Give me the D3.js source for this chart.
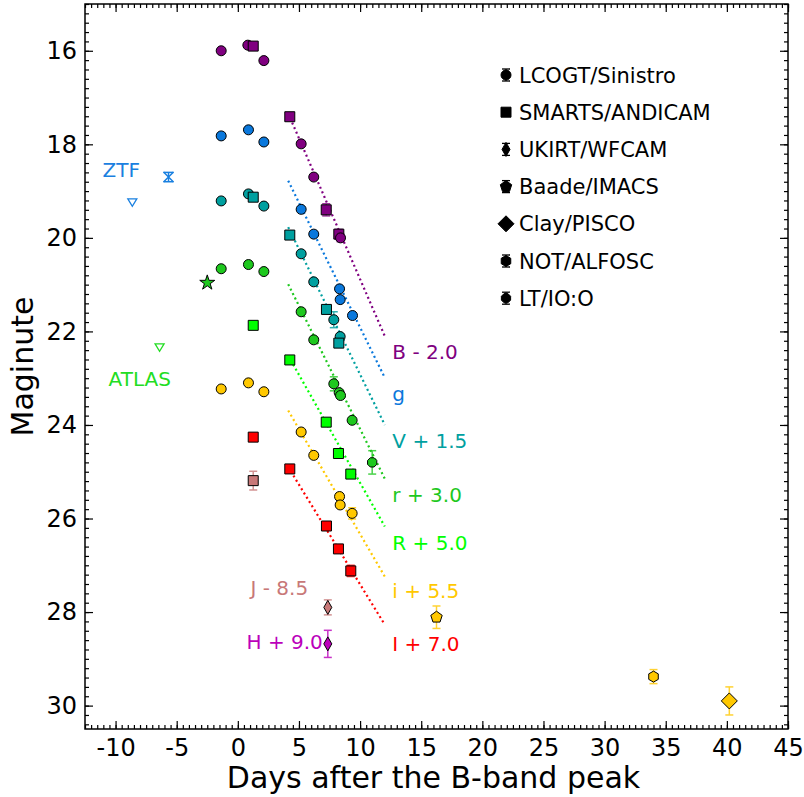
<!DOCTYPE html>
<html>
<head>
<meta charset="utf-8">
<script src="https://cdn.jsdelivr.net/npm/d3@7"></script>
<style>
  body { margin: 0; background: white; }
  text { font-family: "DejaVu Sans", sans-serif; }
</style>
</head>
<body>
<div id="chart"></div>
<script>
// photometry per band: [day, mag, err, instrument]
var B_pts = [[-1.36,16.00,0,"LCOGT"],[0.82,15.88,0,"LCOGT"],[1.26,15.90,0,"SMARTS"],[2.13,16.21,0.05,"LCOGT"],
             [4.25,17.41,0,"SMARTS"],[5.18,17.99,0,"LCOGT"],[6.21,18.70,0.03,"LCOGT"],[7.23,19.40,0.13,"SMARTS"],
             [8.26,19.92,0.1,"SMARTS"],[8.40,20.00,0.08,"LCOGT"]];
var g_pts = [[-1.36,17.82,0,"LCOGT"],[0.87,17.69,0,"LCOGT"],[2.13,17.95,0,"LCOGT"],[5.18,19.39,0,"LCOGT"],
             [6.21,19.92,0,"LCOGT"],[8.32,21.09,0,"LCOGT"],[8.37,21.32,0,"LCOGT"],[9.38,21.66,0,"LCOGT"]];
var V_pts = [[-1.36,19.21,0,"LCOGT"],[0.87,19.06,0,"LCOGT"],[1.26,19.13,0,"SMARTS"],[2.13,19.32,0,"LCOGT"],
             [4.25,19.94,0,"SMARTS"],[5.18,20.34,0,"LCOGT"],[6.21,20.94,0,"LCOGT"],[7.25,21.53,0.05,"SMARTS"],
             [7.85,21.75,0.17,"LCOGT"],[8.37,22.11,0,"LCOGT"],[8.26,22.25,0.04,"SMARTS"]];
var r_pts = [[-1.36,20.66,0,"LCOGT"],[0.87,20.57,0,"LCOGT"],[2.13,20.72,0,"LCOGT"],[5.18,21.58,0,"LCOGT"],
             [6.21,22.18,0,"LCOGT"],[7.85,23.12,0.15,"LCOGT"],[8.29,23.31,0.05,"LCOGT"],[8.40,23.37,0.05,"LCOGT"],
             [9.35,23.90,0.05,"LCOGT"],[10.99,24.80,0.25,"LT"]];
var R_pts = [[1.26,21.87,0,"SMARTS"],[4.25,22.61,0,"SMARTS"],[7.23,23.94,0.05,"SMARTS"],[8.23,24.61,0.05,"SMARTS"],
             [9.24,25.05,0.07,"SMARTS"]];
var i_pts = [[-1.36,23.23,0,"LCOGT"],[0.87,23.10,0,"LCOGT"],[2.13,23.29,0,"LCOGT"],[5.18,24.15,0,"LCOGT"],
             [6.21,24.65,0,"LCOGT"],[8.32,25.53,0.06,"LCOGT"],[8.37,25.71,0.05,"LCOGT"],[9.35,25.89,0.12,"LCOGT"],
             [16.25,28.11,0.24,"Baade"],[34.0,29.38,0.15,"NOT"],[40.2,29.90,0.3,"Clay"]];
var I_pts = [[1.26,24.26,0,"SMARTS"],[4.25,24.94,0,"SMARTS"],[7.25,26.16,0.05,"SMARTS"],[8.23,26.65,0.04,"SMARTS"],
             [9.24,27.12,0.12,"SMARTS"]];
var J_pts = [[1.26,25.19,0.2,"SMARTS"],[7.36,27.90,0.16,"UKIRT"]];
var H_pts = [[7.36,28.68,0.29,"UKIRT"]];

// early data
var ztfDet = [[-5.67,18.70,0.1]];
var ztfLim = [[-8.63,19.23]];
var atlasLim = [[-6.4,22.33]];
var discovery = [[-2.5,20.96]];

// template fits (start/end)
var tmplBands = ["B","g","V","r","R","i","I"];
var tmplDays = [[4.12,12.02],[4.12,12.02],[4.12,12.02],[4.12,12.02],[4.12,12.02],[4.12,12.02],[4.12,12.02]];
var tmplMags = [[17.34,22.1],[18.78,22.99],[19.77,24.0],[20.99,25.15],[22.52,26.17],[23.69,27.24],[24.9,28.27]];

// band labels
var labelText = ["B - 2.0","g","V + 1.5","r + 3.0","R + 5.0","i + 5.5","I + 7.0","J - 8.5","H + 9.0","ZTF","ATLAS"];
var labelDay  = [12.64,12.64,12.64,12.64,12.64,12.64,12.64,1.04,0.71,-11.06,-10.57];
var labelMag  = [22.44,23.34,24.34,25.50,26.52,27.55,28.68,27.48,28.63,18.55,23.01];

var instruments = ["LCOGT/Sinistro","SMARTS/ANDICAM","UKIRT/WFCAM","Baade/IMACS","Clay/PISCO","NOT/ALFOSC","LT/IO:O"];
var xTicks = d3.range(-10, 46, 5);
var yTicks = d3.range(16, 31, 2);

var colors = {B:"#800080", g:"#0a78dc", V:"#00a0a0", r:"#1ec81e", R:"#00ff00", i:"#ffc800", I:"#ff0000",
              J:"#c87878", H:"#bb00bb", ZTF:"#1a80e0", ATLAS:"#22dd22"};
var labelColors = [colors.B, colors.g, colors.V, colors.r, colors.R, colors.i, colors.I, colors.J, colors.H, colors.ZTF, colors.ATLAS];
var instKey = ["LCOGT","SMARTS","UKIRT","Baade","Clay","NOT","LT"];

var width = 804, height = 797;
var margin = {left: 85, right: 16, top: 4, bottom: 68};

var svg = d3.select("#chart").append("svg")
    .attr("width", width)
    .attr("height", height)
    .style("background-color", "white");

var x = d3.scaleLinear().domain([-12.5, 45]).range([margin.left, width - margin.right]);
var y = d3.scaleLinear().domain([15, 30.5]).range([margin.top, height - margin.bottom]);

// shapes
function polygon(n, r, rot) {
  var p = [];
  for (var k = 0; k < n; k++) {
    var a = rot + 2 * Math.PI * k / n;
    p.push([r * Math.sin(a), -r * Math.cos(a)]);
  }
  return "M" + p.join("L") + "Z";
}
function shapePath(inst) {
  if (inst == "LCOGT") return d3.symbol(d3.symbolCircle, Math.PI * 25)();
  if (inst == "SMARTS") return "M-5,-5L5,-5L5,5L-5,5Z";
  if (inst == "UKIRT") return "M0,-7L4,0L0,7L-4,0Z";
  if (inst == "Baade") return polygon(5, 6, 0);
  if (inst == "Clay") return "M0,-8L8,0L0,8L-8,0Z";
  if (inst == "NOT") return polygon(6, 5.5, 0);
  if (inst == "LT") return polygon(8, 5, Math.PI / 8);
}

// ticks, all four sides, pointing in
var xMinor = d3.range(-12.5, 45.01, 0.5);
var yMinor = d3.range(15, 30.51, 0.2);

var minors = [
  svg.append("g").attr("transform", "translate(0," + (height - margin.bottom) + ")")
    .call(d3.axisBottom(x).tickValues(xMinor).tickSize(-4)),
  svg.append("g").attr("transform", "translate(0," + margin.top + ")")
    .call(d3.axisTop(x).tickValues(xMinor).tickSize(-4)),
  svg.append("g").attr("transform", "translate(" + margin.left + ",0)")
    .call(d3.axisLeft(y).tickValues(yMinor).tickSize(-4)),
  svg.append("g").attr("transform", "translate(" + (width - margin.right) + ",0)")
    .call(d3.axisRight(y).tickValues(yMinor).tickSize(-4)),
  svg.append("g").attr("transform", "translate(0," + margin.top + ")")
    .call(d3.axisTop(x).tickValues(xTicks).tickSize(-8)),
  svg.append("g").attr("transform", "translate(" + (width - margin.right) + ",0)")
    .call(d3.axisRight(y).tickValues(yTicks).tickSize(-8))
];
minors.forEach(function(g) { g.selectAll("text").remove(); });

var xAxis = svg.append("g").attr("transform", "translate(0," + (height - margin.bottom) + ")")
  .call(d3.axisBottom(x).tickValues(xTicks).tickSize(-8).tickPadding(10).tickFormat(function(d){ return String(d); }));
var yAxis = svg.append("g").attr("transform", "translate(" + margin.left + ",0)")
  .call(d3.axisLeft(y).tickValues(yTicks).tickSize(-8).tickPadding(8));

svg.selectAll(".domain").remove();
svg.selectAll(".tick line").attr("stroke", "black").attr("stroke-width", 1.2);
xAxis.selectAll("text").style("font-size", "24px").attr("fill", "black");
yAxis.selectAll("text").style("font-size", "24px").attr("fill", "black");

svg.append("rect")
  .attr("x", margin.left).attr("y", margin.top)
  .attr("width", width - margin.left - margin.right)
  .attr("height", height - margin.top - margin.bottom)
  .attr("fill", "none").attr("stroke", "black").attr("stroke-width", 1.5);

// axis titles
svg.append("text")
  .attr("x", (margin.left + width - margin.right) / 2 - 3)
  .attr("y", 788)
  .attr("text-anchor", "middle")
  .style("font-size", "30px")
  .text("Days after the B-band peak");

svg.append("text")
  .attr("transform", "translate(33," + (margin.top + height - margin.bottom) / 2 + ") rotate(-90)")
  .attr("text-anchor", "middle")
  .style("font-size", "30px")
  .text("Maginute");

// template lines
var line = d3.line().x(function(d){ return x(d[0]); }).y(function(d){ return y(d[1]); });
tmplBands.forEach(function(b, k) {
  svg.append("path")
    .attr("d", line([[tmplDays[k][0], tmplMags[k][0]], [tmplDays[k][1], tmplMags[k][1]]]))
    .attr("fill", "none")
    .attr("stroke", colors[b])
    .attr("stroke-width", 2.2)
    .attr("stroke-dasharray", "2,3");
});

// error bars then markers
function drawBand(pts, col) {
  pts.forEach(function(p) {
    if (p[2] > 0) {
      var g = svg.append("g").attr("stroke", col).attr("stroke-width", 1.5).attr("opacity", 0.8);
      g.append("line").attr("x1", x(p[0])).attr("x2", x(p[0])).attr("y1", y(p[1] - p[2])).attr("y2", y(p[1] + p[2]));
      g.append("line").attr("x1", x(p[0]) - 4).attr("x2", x(p[0]) + 4).attr("y1", y(p[1] - p[2])).attr("y2", y(p[1] - p[2]));
      g.append("line").attr("x1", x(p[0]) - 4).attr("x2", x(p[0]) + 4).attr("y1", y(p[1] + p[2])).attr("y2", y(p[1] + p[2]));
    }
  });
  pts.forEach(function(p) {
    svg.append("path")
      .attr("transform", "translate(" + x(p[0]) + "," + y(p[1]) + ")")
      .attr("d", shapePath(p[3]))
      .attr("fill", col)
      .attr("stroke", "black")
      .attr("stroke-width", 1);
  });
}
drawBand(B_pts, colors.B);
drawBand(g_pts, colors.g);
drawBand(V_pts, colors.V);
drawBand(r_pts, colors.r);
drawBand(R_pts, colors.R);
drawBand(i_pts, colors.i);
drawBand(I_pts, colors.I);
drawBand(J_pts, colors.J);
drawBand(H_pts, colors.H);

// ZTF detection: x marker with error bar
ztfDet.forEach(function(p) {
  var g = svg.append("g").attr("stroke", colors.ZTF).attr("stroke-width", 1.5).attr("fill", "none");
  var cx = x(p[0]), cy = y(p[1]);
  g.append("line").attr("x1", cx).attr("x2", cx).attr("y1", y(p[1] - p[2])).attr("y2", y(p[1] + p[2]));
  g.append("line").attr("x1", cx - 5).attr("x2", cx + 5).attr("y1", y(p[1] - p[2])).attr("y2", y(p[1] - p[2]));
  g.append("line").attr("x1", cx - 5).attr("x2", cx + 5).attr("y1", y(p[1] + p[2])).attr("y2", y(p[1] + p[2]));
  g.append("path").attr("d", "M" + (cx - 5) + "," + (cy - 5) + "L" + (cx + 5) + "," + (cy + 5) +
                                "M" + (cx - 5) + "," + (cy + 5) + "L" + (cx + 5) + "," + (cy - 5));
});

// upper limits: open down triangles
function drawLimit(pts, col) {
  pts.forEach(function(p) {
    svg.append("path")
      .attr("transform", "translate(" + x(p[0]) + "," + y(p[1]) + ")")
      .attr("d", "M-4.5,-3L4.5,-3L0,4.5Z")
      .attr("fill", "white")
      .attr("stroke", col)
      .attr("stroke-width", 1.3);
  });
}
drawLimit(ztfLim, colors.ZTF);
drawLimit(atlasLim, colors.ATLAS);

// discovery star
discovery.forEach(function(p) {
  svg.append("path")
    .attr("transform", "translate(" + x(p[0]) + "," + y(p[1]) + ")")
    .attr("d", d3.symbol(d3.symbolStar, 70)())
    .attr("fill", colors.r)
    .attr("stroke", "black")
    .attr("stroke-width", 1);
});

// band labels
labelText.forEach(function(t, k) {
  svg.append("text")
    .attr("x", x(labelDay[k]))
    .attr("y", y(labelMag[k]))
    .attr("dy", "0.36em")
    .attr("fill", labelColors[k])
    .style("font-size", "20px")
    .text(t);
});

// legend
var leg = svg.append("g").attr("transform", "translate(506,75)");
instruments.forEach(function(name, k) {
  var row = leg.append("g").attr("transform", "translate(0," + (k * 37.2) + ")");
  if (instKey[k] != "Clay" && instKey[k] != "SMARTS") {
    row.append("line").attr("x1", 0).attr("x2", 0).attr("y1", -6).attr("y2", 6).attr("stroke", "black").attr("stroke-width", 1.3);
    row.append("line").attr("x1", -4).attr("x2", 4).attr("y1", -6).attr("y2", -6).attr("stroke", "black").attr("stroke-width", 1.3);
    row.append("line").attr("x1", -4).attr("x2", 4).attr("y1", 6).attr("y2", 6).attr("stroke", "black").attr("stroke-width", 1.3);
  }
  row.append("path")
    .attr("d", shapePath(instKey[k]))
    .attr("fill", "black")
    .attr("stroke", "black")
    .attr("stroke-width", 1);
  row.append("text")
    .attr("x", 13)
    .attr("dy", "0.36em")
    .style("font-size", "21px")
    .text(name);
});
</script>
</body>
</html>
